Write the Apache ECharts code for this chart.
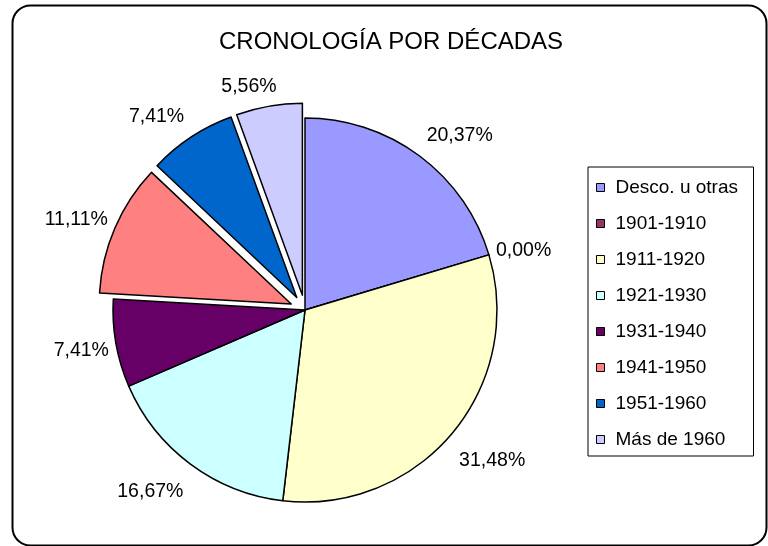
<!DOCTYPE html>
<html>
<head>
<meta charset="utf-8">
<script src="https://cdn.jsdelivr.net/npm/echarts@6/dist/echarts.min.js"></script>
<style>
  html, body { margin: 0; padding: 0; background: #ffffff; }
  #chart { width: 768px; height: 546px; }
</style>
</head>
<body>
<div id="chart"></div>
<script>
// Decades and share of items (percent) in each one
const categories = ['Desco. u otras', '1901-1910', '1911-1920', '1921-1930', '1931-1940', '1941-1950', '1951-1960', 'Más de 1960'];
const shares = [20.37, 0.00, 31.48, 16.67, 7.41, 11.11, 7.41, 5.56];
const sliceColors = ['#9999FF', '#993366', '#FFFFCC', '#CCFFFF', '#660066', '#FF8080', '#0066CC', '#CCCCFF'];
// Slices pulled out of the pie
const exploded = ['1941-1950', '1951-1960', 'Más de 1960'];

const FONT = '"Liberation Sans", Arial, sans-serif';
const LABEL_SIZE = 19.5;
const CENTER = [305, 310];
const RADIUS = 192;
const EXPLODE = 15;

const total = shares.reduce((a, b) => a + b, 0);
const clamp01 = v => Math.max(0, Math.min(1, v));
const fmtPct = v => v.toFixed(2).replace('.', ',') + '%';

const measureCtx = document.createElement('canvas').getContext('2d');
measureCtx.font = LABEL_SIZE + 'px ' + FONT;

// Label placement: the text box sits just off the rim, pushed away from the
// slice's mid point. Expressed through the pie's own outside-label settings
// (label line length + distance), so exploded slices carry their label along.
function labelSettings(i) {
  let before = 0;
  for (let j = 0; j < i; j++) before += shares[j];
  const mid = (before + shares[i] / 2) / total * Math.PI * 2;
  const ux = Math.sin(mid);
  const uy = -Math.cos(mid);
  const shift = exploded.includes(categories[i]) ? EXPLODE : 0;
  const w = measureCtx.measureText(fmtPct(shares[i])).width;
  const rim = RADIUS + shift;
  const offX = Math.sign(ux) * (w / 2 + 7) * clamp01(Math.abs(ux) / 0.3);
  const offY = Math.sign(uy) * 24 * clamp01((Math.abs(uy) - 0.1) / 0.55) + 4;
  const tx = CENTER[0] + ux * rim + offX;
  const ty = CENTER[1] + uy * rim + offY;
  const len = (ty - CENTER[1]) / uy - RADIUS - shift;
  const x1 = CENTER[0] + ux * (RADIUS + len + shift);
  const dist = ux > 0 ? (tx - w / 2) - x1 : x1 - (tx + w / 2);
  return { len: len, dist: dist };
}

const chart = echarts.init(document.getElementById('chart'), null, { renderer: 'canvas' });

const pieData = categories.map((name, i) => {
  const s = labelSettings(i);
  return {
    name: name,
    value: shares[i],
    selected: exploded.includes(name),
    itemStyle: { color: sliceColors[i] },
    label: { distanceToLabelLine: s.dist },
    labelLine: { length: s.len, length2: 0 }
  };
});

chart.setOption({
  backgroundColor: '#ffffff',
  animation: false,
  title: {
    text: 'CRONOLOGÍA POR DÉCADAS',
    left: 219,
    top: 30,
    padding: 0,
    textStyle: { fontFamily: FONT, fontSize: 24, fontWeight: 'normal', color: '#000000' }
  },
  legend: {
    orient: 'vertical',
    left: 588,
    top: 167,
    padding: [11, 8, 7, 8],
    itemGap: 17,
    itemWidth: 8,
    itemHeight: 8,
    icon: 'rect',
    borderColor: '#000000',
    borderWidth: 1,
    selectedMode: false,
    itemStyle: { borderColor: '#000000', borderWidth: 1 },
    textStyle: { fontFamily: FONT, fontSize: 19, color: '#000000', lineHeight: 19, padding: [0, 0, 0, 6], width: 130 },
    data: categories
  },
  graphic: [{
    type: 'rect',
    shape: { x: 12.5, y: 5.5, width: 754, height: 540, r: 18 },
    style: { fill: 'none', stroke: '#000000', lineWidth: 2 },
    silent: true,
    z: -1
  }],
  series: [{
    type: 'pie',
    center: CENTER,
    radius: RADIUS,
    startAngle: 90,
    clockwise: true,
    selectedMode: 'multiple',
    selectedOffset: EXPLODE,
    avoidLabelOverlap: false,
    minShowLabelAngle: 0,
    stillShowZeroSum: true,
    itemStyle: { borderColor: '#000000', borderWidth: 1.5 },
    label: {
      show: true,
      position: 'outside',
      fontFamily: FONT,
      fontSize: LABEL_SIZE,
      color: '#000000',
      formatter: p => fmtPct(p.value)
    },
    labelLine: { show: false },
    emphasis: { disabled: true },
    select: { itemStyle: { borderColor: '#000000', borderWidth: 1.5 } },
    data: pieData
  }]
});
</script>
</body>
</html>
